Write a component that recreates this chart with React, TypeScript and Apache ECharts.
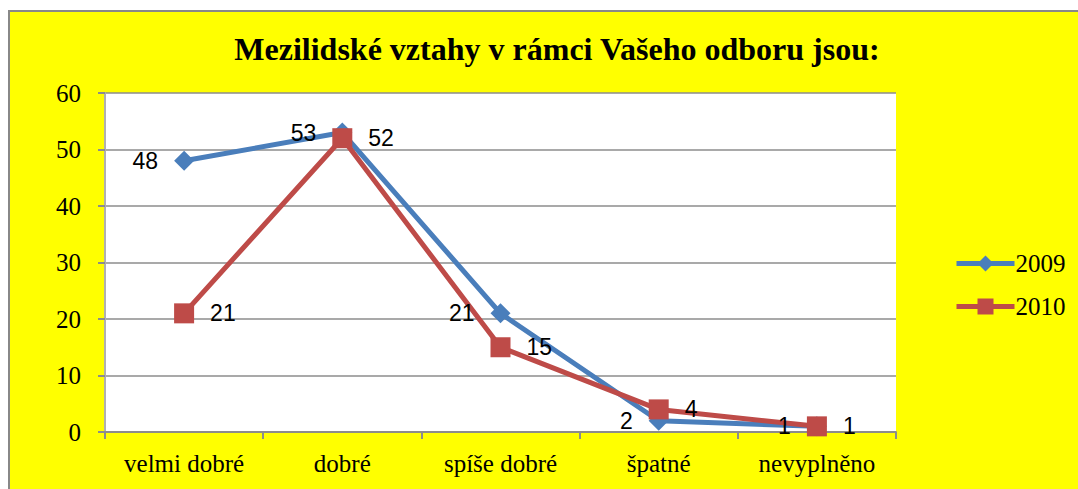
import React, { useEffect, useRef } from "react";
import * as echarts from "echarts";

const categories = ["velmi dobré", "dobré", "spíše dobré", "špatné", "nevyplněno"];
const series2009 = [48, 53, 21, 2, 1];
const series2010 = [21, 52, 15, 4, 1];
const titleText = "Mezilidské vztahy v rámci Vašeho odboru jsou:";

export default function App() {
  const ref = useRef<HTMLDivElement>(null);
  useEffect(() => {
    const chart = echarts.init(ref.current!, null, { renderer: "svg" });
    const serif = "Liberation Serif";
    const sans = "Liberation Sans";
    chart.setOption({
      animation: false,
      backgroundColor: "#ffffff",
      graphic: [
        {
          type: "rect",
          z: -10,
          silent: true,
          shape: { x: 9, y: 11, width: 1100, height: 500 },
          style: { fill: "#ffff00", stroke: "#888888", lineWidth: 2 },
        },
      ],
      title: {
        text: titleText,
        left: 552,
        top: 28,
        textAlign: "center",
        textStyle: { fontFamily: serif, fontWeight: "bold", fontSize: 32, color: "#000" },
      },
      legend: {
        orient: "vertical",
        left: 949,
        top: 246,
        itemWidth: 58,
        itemHeight: 20,
        itemGap: 18,
        lineStyle: { width: 5 },
        textStyle: { fontFamily: serif, fontSize: 25, color: "#000", padding: [0, 0, 0, -4] },
        data: ["2009", "2010"],
      },
      grid: {
        left: 105,
        top: 93,
        right: 182,
        bottom: 57,
        show: true,
        backgroundColor: "#ffffff",
        borderWidth: 0,
      },
      xAxis: {
        type: "category",
        data: categories,
        boundaryGap: true,
        axisLine: { lineStyle: { color: "#8c8c8c", width: 2 } },
        axisTick: { show: true, length: 7, lineStyle: { color: "#8c8c8c", width: 2 } },
        axisLabel: { fontFamily: serif, fontSize: 25, color: "#000", margin: 19 },
      },
      yAxis: {
        type: "value",
        min: 0,
        max: 60,
        interval: 10,
        axisLine: { show: true, lineStyle: { color: "#b0b0b0", width: 2 } },
        axisTick: { show: true, length: 7, lineStyle: { color: "#8c8c8c", width: 2 } },
        axisLabel: { fontFamily: serif, fontSize: 25, color: "#000", margin: 24 },
        splitLine: { lineStyle: { color: "#8c8c8c", width: 1.5 } },
      },
      series: [
        {
          name: "2009",
          type: "line",
          data: series2009,
          symbol: "diamond",
          symbolSize: 20,
          color: "#4a7ebb",
          lineStyle: { width: 5, color: "#4a7ebb" },
          itemStyle: { color: "#4a7ebb" },
          label: {
            show: true,
            position: "left",
            distance: 16,
            fontFamily: sans,
            fontSize: 23,
            color: "#000",
          },
        },
        {
          name: "2010",
          type: "line",
          data: series2010,
          symbol: "rect",
          symbolSize: 20,
          color: "#be4b48",
          lineStyle: { width: 5, color: "#be4b48" },
          itemStyle: { color: "#be4b48" },
          label: {
            show: true,
            position: "right",
            distance: 16,
            fontFamily: sans,
            fontSize: 23,
            color: "#000",
          },
        },
      ],
    });
    return () => chart.dispose();
  }, []);
  return (
    <div
      ref={ref}
      style={{ position: "absolute", left: 0, top: 0, width: 1078, height: 489 }}
    />
  );
}
